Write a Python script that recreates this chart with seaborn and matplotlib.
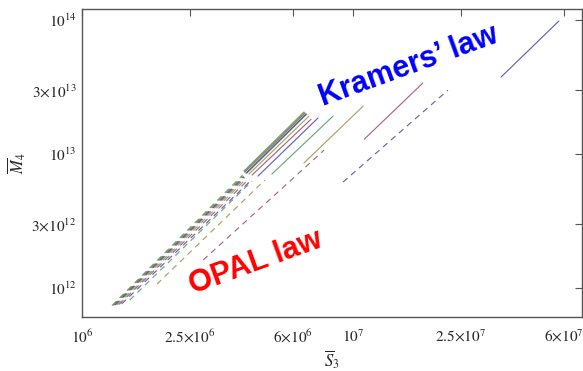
import numpy as np
import pandas as pd
import matplotlib
matplotlib.use("Agg")
import matplotlib.pyplot as plt
from matplotlib.ticker import FixedLocator, FixedFormatter, NullLocator
import seaborn as sns

# colour of each line (cycles like the old Mathematica default palette)
line_colors = ["#3f3d99", "#993d71", "#998b3d", "#3d9956"] * 3

# Kramers' law segments (solid): start / end of S3 and M4
kramers_s3_start = [3.52e7, 1.10e7, 6.59e6, 5.02e6, 4.46e6, 4.24e6,
                    4.13e6, 4.06e6, 4.03e6, 3.99e6, 3.97e6, 3.96e6]
kramers_s3_end = [5.75e7, 1.81e7, 1.09e7, 8.44e6, 7.43e6, 7.00e6,
                  6.88e6, 6.76e6, 6.71e6, 6.65e6, 6.63e6, 6.59e6]
kramers_m4_start = [3.76e13, 1.29e13, 8.57e12, 7.09e12, 6.85e12, 6.97e12,
                    7.09e12, 7.21e12, 7.21e12, 7.34e12, 7.38e12, 7.47e12]
kramers_m4_end = [9.84e13, 3.39e13, 2.28e13, 1.92e13, 1.86e13, 1.82e13,
                  1.92e13, 1.99e13, 1.99e13, 2.02e13, 2.04e13, 2.06e13]

# OPAL law segments (dashed)
opal_s3_start = [9.19e6, 2.80e6, 1.89e6, 1.50e6, 1.40e6, 1.37e6,
                 1.35e6, 1.33e6, 1.32e6, 1.31e6, 1.30e6, 1.29e6]
opal_s3_end = [2.24e7, 7.82e6, 4.73e6, 4.24e6, 4.15e6, 4.08e6,
               4.03e6, 3.99e6, 3.97e6, 3.95e6, 3.93e6, 3.91e6]
opal_m4_start = [6.18e12, 1.62e12, 1.07e12, 8.14e11, 7.60e11, 7.55e11,
                 7.50e11, 7.47e11, 7.47e11, 7.45e11, 7.42e11, 7.40e11]
opal_m4_end = [3.00e13, 1.07e13, 6.40e12, 6.29e12, 6.20e12, 6.35e12,
               6.51e12, 6.62e12, 6.74e12, 6.80e12, 6.88e12, 6.95e12]

x_ticks = [1e6, 2.5e6, 6e6, 1e7, 2.5e7, 6e7]
x_tick_labels = [r"$10^{6}$", r"$2.5{\times}10^{6}$", r"$6{\times}10^{6}$",
                 r"$10^{7}$", r"$2.5{\times}10^{7}$", r"$6{\times}10^{7}$"]
y_ticks = [1e12, 3e12, 1e13, 3e13, 1e14]
y_tick_labels = [r"$10^{12}$", r"$3{\times}10^{12}$", r"$10^{13}$",
                 r"$3{\times}10^{13}$", r"$10^{14}$"]


def build_frame():
    rows = []
    for i in range(len(line_colors)):
        for s3, m4 in ((kramers_s3_start[i], kramers_m4_start[i]),
                       (kramers_s3_end[i], kramers_m4_end[i])):
            rows.append({"S3": s3, "M4": m4, "line": f"K{i}", "law": "Kramers"})
        for s3, m4 in ((opal_s3_start[i], opal_m4_start[i]),
                       (opal_s3_end[i], opal_m4_end[i])):
            rows.append({"S3": s3, "M4": m4, "line": f"O{i}", "law": "OPAL"})
    return pd.DataFrame(rows)


sns.set_style("white")
plt.rcParams["font.family"] = ["Liberation Serif", "DejaVu Serif"]
plt.rcParams["mathtext.fontset"] = "stix"

df = build_frame()
palette = {}
for i, c in enumerate(line_colors):
    palette[f"K{i}"] = c
    palette[f"O{i}"] = c

fig = plt.figure(figsize=(5.83, 3.71), dpi=100)
ax = fig.add_axes([0.1407, 0.1456, 0.8576, 0.8301])
ax.set_xscale("log")
ax.set_yscale("log")

sns.lineplot(data=df, x="S3", y="M4", hue="line", style="law",
             palette=palette, dashes={"Kramers": "", "OPAL": (5, 4)},
             estimator=None, sort=False, legend=False, linewidth=0.85,
             alpha=0.8, ax=ax)

ax.set_xlim(1e6, 7.0e7)
ax.set_ylim(6.08e11, 1.21e14)

ax.xaxis.set_major_locator(FixedLocator(x_ticks))
ax.xaxis.set_major_formatter(FixedFormatter(x_tick_labels))
ax.yaxis.set_major_locator(FixedLocator(y_ticks))
ax.yaxis.set_major_formatter(FixedFormatter(y_tick_labels))
ax.xaxis.set_minor_locator(NullLocator())
ax.yaxis.set_minor_locator(NullLocator())
ax.tick_params(which="major", direction="in", length=5, width=0.8,
               color="#555555", labelsize=11, top=True, right=True)
ax.tick_params(axis="x", pad=8)
ax.tick_params(axis="y", pad=4)
for sp in ax.spines.values():
    sp.set_color("#555555")
    sp.set_linewidth(1.0)

ax.set_xlabel(r"$\overline{S}_3$", fontsize=12, labelpad=2)
ax.set_ylabel(r"$\overline{M}_4$", fontsize=12, labelpad=2)

ax.text(1.6e7, 4.54e13, "Kramers\u2019 law", color="blue", fontsize=22,
        fontweight="bold", family=["Liberation Sans", "DejaVu Sans"],
        rotation=20, ha="center", va="center", rotation_mode="anchor")
ax.text(4.38e6, 1.54e12, "OPAL law", color="red", fontsize=22,
        fontweight="bold", family=["Liberation Sans", "DejaVu Sans"],
        rotation=20, ha="center", va="center", rotation_mode="anchor")

fig.savefig("out.png", dpi=100)
